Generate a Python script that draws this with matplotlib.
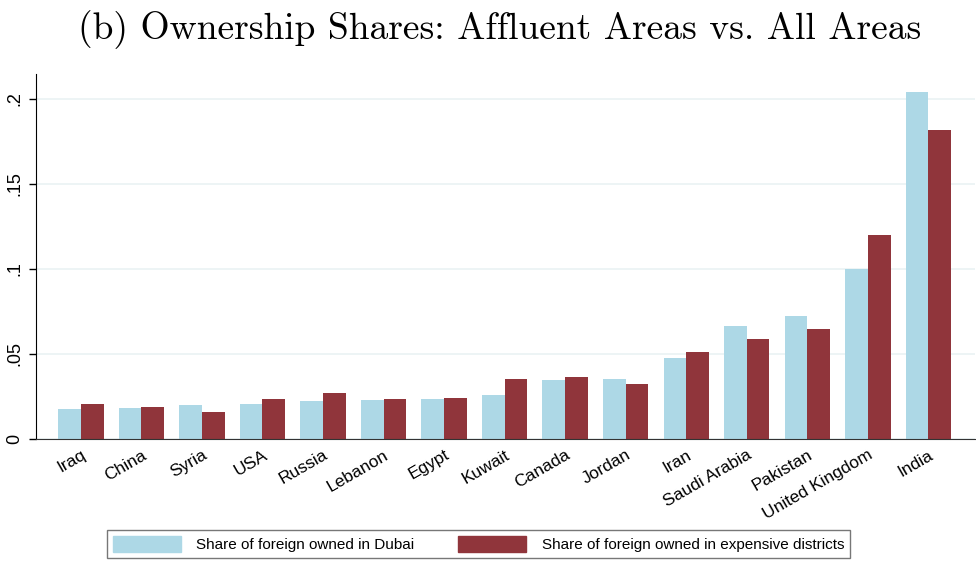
import numpy as np
import matplotlib.pyplot as plt
from matplotlib.patches import Patch

# =============================================================================
# Dados
# =============================================================================

countries = ['Iraq', 'China', 'Syria', 'USA', 'Russia', 'Lebanon', 'Egypt', 'Kuwait',
             'Canada', 'Jordan', 'Iran', 'Saudi Arabia', 'Pakistan', 'United Kingdom', 'India']
share_dubai = [0.0178, 0.0184, 0.0202, 0.0208, 0.0225, 0.0231, 0.0237, 0.0261,
               0.0349, 0.0355, 0.0478, 0.0667, 0.0725, 0.1002, 0.2043]
share_expensive = [0.0208, 0.0190, 0.0157, 0.0233, 0.0273, 0.0237, 0.0240, 0.0355,
                   0.0367, 0.0325, 0.0514, 0.0590, 0.0649, 0.1198, 0.1820]
yticks = [0, 0.05, 0.1, 0.15, 0.2]
ytick_labels = ['0', '.05', '.1', '.15', '.2']

c_blue = '#add8e6'
c_red = '#90353b'

plt.rcParams['font.family'] = ['Liberation Sans', 'DejaVu Sans']

fig = plt.figure(figsize=(9.76, 5.61), dpi=100)
ax = fig.add_axes([36 / 976, 1 - 439 / 561, (975 - 36) / 976, (439 - 74) / 561])

x = np.arange(len(countries))
w = 0.375
ax.bar(x - w / 2, share_dubai, width=w, color=c_blue, zorder=2)
ax.bar(x + w / 2, share_expensive, width=w, color=c_red, zorder=2)

ax.set_xlim(-0.74, len(countries) - 1 + 0.77)
ax.set_ylim(0, 0.2147)
ax.set_yticks(yticks)
ax.set_yticklabels(ytick_labels, rotation=90, va='center', fontsize=13)
ax.set_xticks(x)
ax.set_xticklabels(countries, rotation=30, ha='right', rotation_mode='anchor', fontsize=12.5)
ax.tick_params(axis='x', length=0, pad=6)
ax.tick_params(axis='y', length=5, width=1, pad=4)
ax.grid(True, axis='y', color='#eaf2f3', linewidth=1.2, zorder=0)

for s in ['top', 'right']:
    ax.spines[s].set_visible(False)
ax.spines['left'].set_color('black')
ax.spines['bottom'].set_color('#333333')

fig.text(499.5 / 976, 1 - 30 / 561, '(b) Ownership Shares: Affluent Areas vs. All Areas',
         ha='center', va='center', fontsize=27, family='cmr10')

handles = [Patch(color=c_blue, label='Share of foreign owned in Dubai'),
           Patch(color=c_red, label='Share of foreign owned in expensive districts')]
leg = fig.legend(handles=handles, loc='center', bbox_to_anchor=(478.5 / 976, 1 - 544 / 561),
                 ncol=2, fontsize=11, frameon=True, fancybox=False, edgecolor='#555555',
                 handlelength=4.45, handleheight=1.2, columnspacing=2.9, handletextpad=1.0,
                 borderpad=0.4, borderaxespad=0)
leg.get_frame().set_linewidth(1)

plt.savefig('out.png', dpi=100)
